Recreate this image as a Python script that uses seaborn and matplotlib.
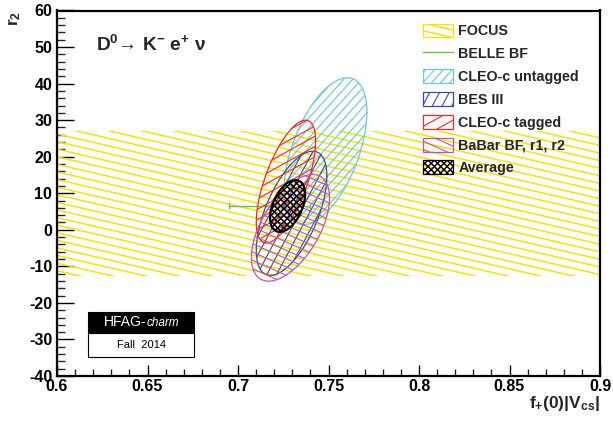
import numpy as np
import matplotlib
matplotlib.use('Agg')
import matplotlib.pyplot as plt
import seaborn as sns
from matplotlib.collections import LineCollection
from matplotlib.patches import Polygon, Rectangle
from matplotlib.lines import Line2D
from matplotlib.legend_handler import HandlerBase
from matplotlib.ticker import MultipleLocator, FormatStrFormatter

# 1-sigma contours: centre, widths, correlation
names = ['CLEO-c untagged', 'BES III', 'CLEO-c tagged', 'BaBar BF, r1, r2', 'Average']
fv_c = [0.7483, 0.7296, 0.7265, 0.7290, 0.7274]
r2_c = [21.5, 4.5, 13.2, 0.55, 6.5]
fv_err = [0.0229, 0.0195, 0.0164, 0.0216, 0.0097]
r2_err = [20.1, 17.0, 16.8, 14.6, 7.1]
rho = [0.53, 0.60, 0.66, 0.56, 0.45]

# FOCUS only measures r2 -> band
focus_r2 = 7.2
focus_err = 19.9
# BELLE BF only measures f+(0)|Vcs|
belle_fv = 0.7175
belle_err = 0.0223
belle_r2 = 6.45

x_ticks = [0.6, 0.65, 0.7, 0.75, 0.8, 0.85, 0.9]
y_ticks = [-40, -30, -20, -10, 0, 10, 20, 30, 40, 50, 60]

# colour, hatch angles (deg), hatch step (px), hatch width
sty = {
    'FOCUS': ('#f4e600', [-13], 7.4, 1.1),
    'BELLE BF': ('#6cbf4c',),
    'CLEO-c untagged': ('#6fc6d6', [48], 6.6, 0.8),
    'BES III': ('#3a4b9e', [62], 8.6, 0.8),
    'CLEO-c tagged': ('#ff2424', [29], 9.0, 0.8),
    'BaBar BF, r1, r2': ('#c052b4', [-24], 7.6, 0.8),
    'Average': ('black', [45, -45], 4.5, 1.05),
}


def make_segs(cx, cy, r, angles, step):
    segs = []
    for ang in angles:
        a = np.deg2rad(ang)
        d = np.array([np.cos(a), np.sin(a)])
        n = np.array([-np.sin(a), np.cos(a)])
        for k in np.arange(-r, r, step):
            c = np.array([cx, cy]) + k * n
            segs.append([c - r * d, c + r * d])
    return np.array(segs)


def hatch(ax, clip, angles, step, color, lw):
    w, h = ax.bbox.width, ax.bbox.height
    segs = make_segs(w / 2, h / 2, np.hypot(w, h), angles, step) / [w, h]
    lc = LineCollection(segs, colors=color, linewidths=lw, transform=ax.transAxes)
    ax.add_collection(lc, autolim=False)
    lc.set_clip_path(clip)


class HatchBox(HandlerBase):
    def __init__(self, color, angles, step, lw):
        super().__init__()
        self.color, self.angles, self.step, self.lw = color, angles, step, lw

    def create_artists(self, legend, orig, xd, yd, w, h, fontsize, trans):
        box = Rectangle((-xd, -yd), w, h, facecolor='none', edgecolor=self.color,
                        lw=0.9, transform=trans)
        segs = make_segs(-xd + w / 2, -yd + h / 2, np.hypot(w, h), self.angles, self.step * 0.72)
        lc = LineCollection(segs, colors=self.color, linewidths=self.lw, transform=trans)
        lc.set_clip_path(box)
        return [lc, box]


sns.set_theme(style='ticks')
plt.rcParams['font.family'] = ['Liberation Sans', 'DejaVu Sans']
plt.rcParams['font.weight'] = 'bold'
plt.rcParams['axes.unicode_minus'] = False
plt.rcParams['mathtext.fontset'] = 'custom'
plt.rcParams['mathtext.rm'] = 'Liberation Sans:bold'
plt.rcParams['mathtext.it'] = 'Liberation Sans:bold'
plt.rcParams['mathtext.bf'] = 'Liberation Sans:bold'

fig = plt.figure(figsize=(6.13, 4.21), dpi=100)
ax = fig.add_axes([57 / 613, 45 / 421, 543 / 613, 365.5 / 421])
ax.set_xlim(0.6, 0.9)
ax.set_ylim(-40, 60)

# FOCUS band
band = ax.axhspan(focus_r2 - focus_err, focus_r2 + focus_err, facecolor='none', edgecolor='none')
c, ang, st, lw = sty['FOCUS']
hatch(ax, band, ang, st, c, lw)

# BELLE BF
ax.errorbar([belle_fv], [belle_r2], xerr=[belle_err], fmt='none', ecolor=sty['BELLE BF'][0],
            elinewidth=1.0, capsize=2, capthick=1.0)

t = np.linspace(0, 2 * np.pi, 300)
for i, nm in enumerate(names):
    ex = fv_c[i] + fv_err[i] * np.cos(t)
    ey = r2_c[i] + r2_err[i] * (rho[i] * np.cos(t) + np.sqrt(1 - rho[i] ** 2) * np.sin(t))
    c, ang, st, lw = sty[nm]
    poly = Polygon(np.column_stack([ex, ey]), closed=True, facecolor='none', edgecolor='none')
    ax.add_patch(poly)
    hatch(ax, poly, ang, st, c, lw)
    sns.lineplot(x=ex, y=ey, sort=False, estimator=None, color=c,
                 lw=1.5 if nm == 'Average' else 0.9, ax=ax)

# axes cosmetics
ax.set_xticks(x_ticks)
ax.set_yticks(y_ticks)
ax.xaxis.set_major_formatter(FormatStrFormatter('%g'))
ax.xaxis.set_minor_locator(MultipleLocator(0.01))
ax.yaxis.set_minor_locator(MultipleLocator(2))
ax.tick_params(direction='in', width=1.0, colors='black', labelsize=11.5)
ax.tick_params(axis='x', which='major', length=7.7, pad=2.5)
ax.tick_params(axis='x', which='minor', length=4.8)
ax.tick_params(axis='y', which='major', length=12, pad=3.5)
ax.tick_params(axis='y', which='minor', length=6)
ax.tick_params(which='minor', width=1.0, direction='in')
for lab in ax.get_xticklabels() + ax.get_yticklabels():
    lab.set_fontweight('bold')
for sp in ax.spines.values():
    sp.set_linewidth(1.6)
    sp.set_color('black')
ax.set_xlabel('f$_{+}$(0)|V$_{cs}$|', loc='right', fontsize=12.5, fontweight='bold', labelpad=0)
ax.set_ylabel('r$_{2}$', loc='top', fontsize=12.5, fontweight='bold', labelpad=4)

fig.text(96.5 / 613, 1 - 45 / 421, 'D$^{0}$→ K$^{-}$ e$^{+}$ ν', fontsize=13.8,
         fontweight='bold', va='center', ha='left')

# legend
handles, hmap = [], {}
for nm in ['FOCUS', 'BELLE BF'] + names:
    if nm == 'BELLE BF':
        h = Line2D([], [], color=sty[nm][0], lw=1.0)
    else:
        h = Rectangle((0, 0), 1, 1)
        c, ang, st, lw = sty[nm]
        hmap[h] = HatchBox(c, ang, st, lw)
    handles.append(h)
ax.legend(handles, ['FOCUS', 'BELLE BF'] + names, handler_map=hmap, loc='upper left',
          bbox_to_anchor=(422.5 / 613, 1 - 23.5 / 421), bbox_transform=fig.transFigure,
          frameon=False, borderpad=0, borderaxespad=0, handlelength=2.1, handleheight=1.12,
          handletextpad=0.4, labelspacing=0.56, prop={'weight': 'bold', 'size': 10.3})

# HFAG logo
fig.patches.append(Rectangle((88.3 / 613, 1 - 333.3 / 421), 106 / 613, 21.6 / 421,
                             transform=fig.transFigure, facecolor='black', edgecolor='black', lw=0.8))
fig.patches.append(Rectangle((88.3 / 613, 1 - 356.7 / 421), 106 / 613, 23.4 / 421,
                             transform=fig.transFigure, facecolor='white', edgecolor='black', lw=0.8))
fig.text(146.5 / 613, 1 - 322.5 / 421, 'HFAG-', color='white', fontsize=10,
         fontweight='normal', ha='right', va='center')
fig.text(146.5 / 613, 1 - 322.5 / 421, 'charm', color='white', fontsize=8.5,
         fontweight='normal', style='italic', ha='left', va='center')
fig.text(141.3 / 613, 1 - 345 / 421, 'Fall  2014', color='black', fontsize=8,
         fontweight='normal', ha='center', va='center')

fig.savefig('out.png', dpi=100)
